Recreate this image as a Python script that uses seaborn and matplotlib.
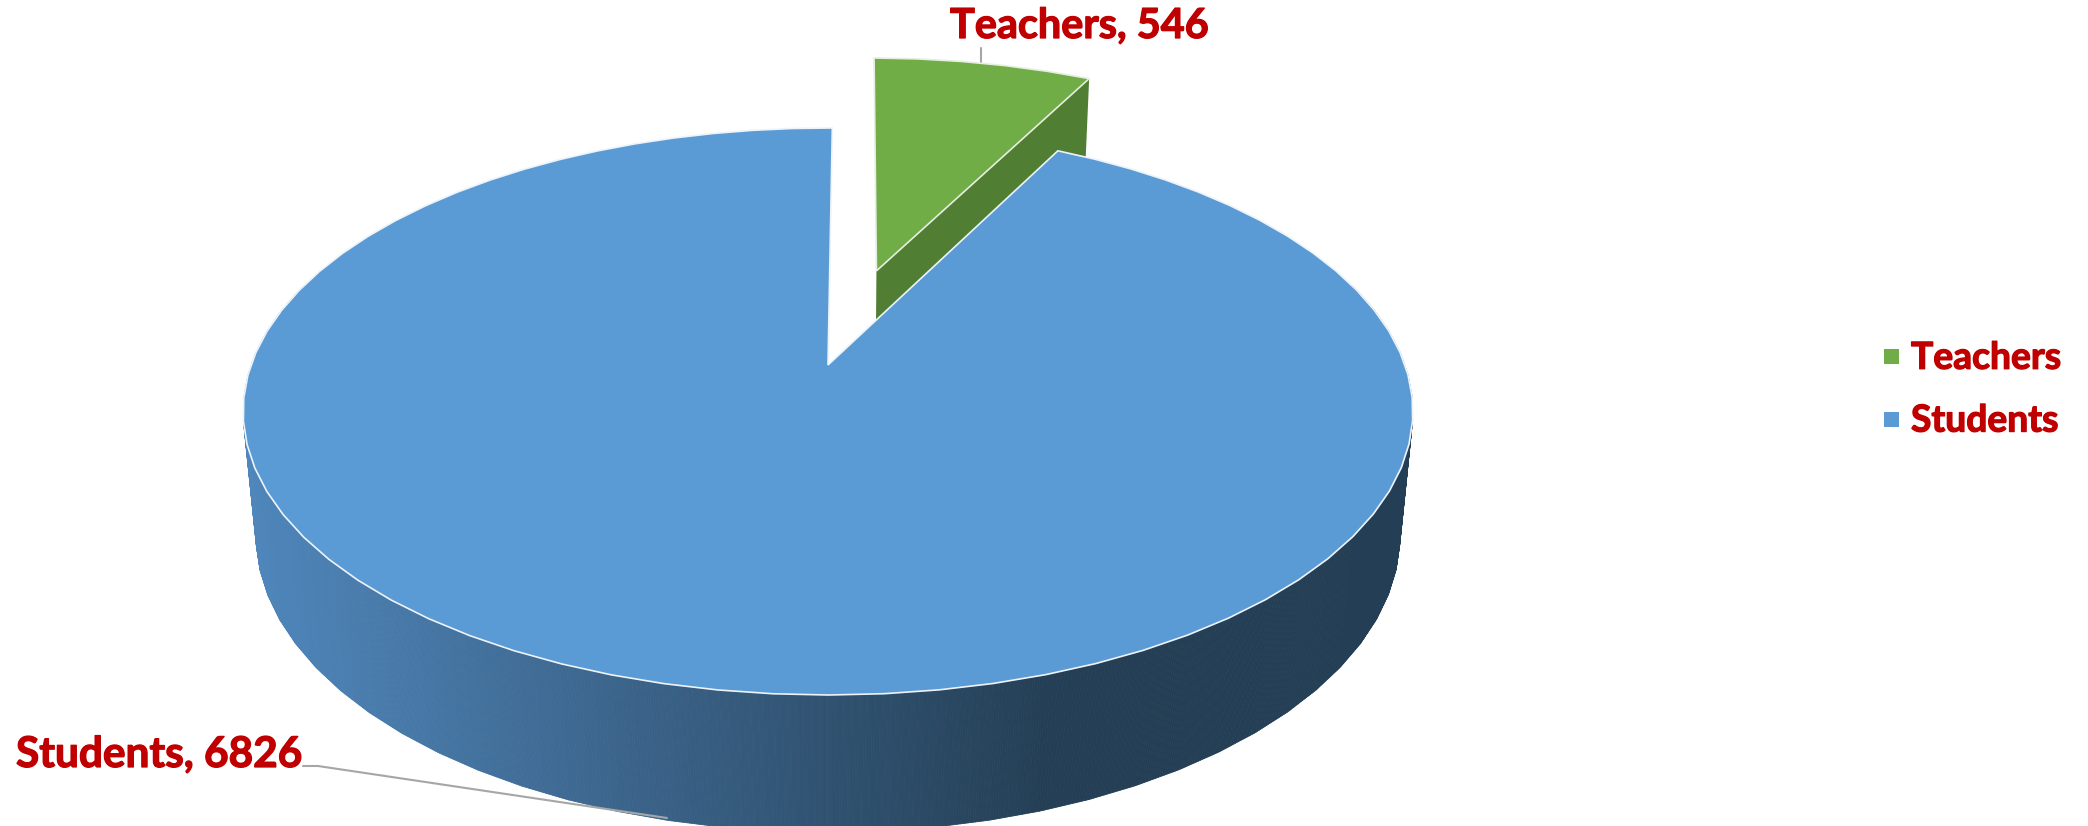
import numpy as np
import matplotlib.pyplot as plt
import matplotlib.patheffects as pe
from matplotlib.collections import PolyCollection
from matplotlib.lines import Line2D
import seaborn as sns

categories = ['Teachers', 'Students']
values = [546, 6826]

# pie projection, in image pixels
CX, CY = 828, 365
RX, RY = 577, 275.9
PERSP = 0.164      # back of the disc shrinks
DEPTH = 125        # thickness of the pie
Z_PERSP = 0.022
EXPLODE = 0.372
START = 89.5
FACET = 4.6        # the outline is a polygon, one vertex per FACET degrees


def project(X, Y, Z=0.0):
    """Plane coords of the pie (unit radius) to image pixels"""
    X, Y, Z = np.asarray(X, float), np.asarray(Y, float), np.asarray(Z, float)
    w = 1 + PERSP * Y + Z_PERSP * Z
    return CX + RX * X / w, CY - RY * Y / w + DEPTH * Z / w


def arc(a0, a1):
    n = max(int(abs(a1 - a0) / FACET), 2) + 1
    t = np.radians(np.linspace(a0, a1, n))
    return np.cos(t), np.sin(t)


def draw_side(ax, a0, a1, palette):
    """Outer wall of the big slice as thin strips, shaded by x position"""
    cx, cy = arc(a0, a1)
    # subdivide the facets so the shading stays smooth
    p = np.linspace(0, len(cx) - 1, 1500)
    ux = np.interp(p, np.arange(len(cx)), cx)
    uy = np.interp(p, np.arange(len(cy)), cy)
    x0, y0 = project(ux, uy)
    x1, y1 = project(ux, uy, 1.0)
    polys, cols = [], []
    for i in range(len(x0) - 1):
        if uy[i] > 0.3:
            continue
        polys.append([(x0[i], y0[i]), (x0[i + 1], y0[i + 1]), (x1[i + 1], y1[i + 1]), (x1[i], y1[i])])
        f = np.clip((x1[i] - 250) / (1040 - 250), 0, 1)
        cols.append(palette[int(f * (len(palette) - 1))])
    ax.add_collection(PolyCollection(polys, facecolors=cols, edgecolors=cols, linewidths=0.6, zorder=2))


def main():
    sns.set_theme(style='white')
    plt.rcParams['font.family'] = ['Lato', 'DejaVu Sans']

    blue, green = '#5B9BD5', '#70AD47'
    dark_green = '#507E32'
    red = '#C00000'
    line_grey = '#A6A6A6'
    side_palette = sns.blend_palette(['#4F87BC', '#3A6288', '#243F55'], n_colors=200)
    thick = [pe.withStroke(linewidth=0.9, foreground=red)]

    fig = plt.figure(figsize=(20.88, 8.26), dpi=100)
    ax = fig.add_axes([0, 0, 1, 1])
    ax.set_xlim(0, 2088)
    ax.set_ylim(826, 0)
    ax.axis('off')

    sweep = 360 * np.array(values) / sum(values)
    teacher_end = START - sweep[0]

    # teachers slice, pulled out along its bisector
    mid = np.radians(START - sweep[0] / 2)
    ox, oy = EXPLODE * np.cos(mid), EXPLODE * np.sin(mid)
    ex, ey = np.cos(np.radians(teacher_end)), np.sin(np.radians(teacher_end))
    wx, wy = project([ox, ox + ex, ox + ex, ox], [oy, oy + ey, oy + ey, oy], [0, 0, 1, 1])
    ax.fill(wx, wy, color=dark_green, lw=0, zorder=1)
    ux, uy = arc(teacher_end, START)
    tx, ty = project(np.r_[ox, ox + ux], np.r_[oy, oy + uy])
    ax.fill(tx, ty, facecolor=green, edgecolor='#E6EEE0', lw=1.2, zorder=1.5)

    # students slice
    draw_side(ax, START, START + sweep[1], side_palette)
    ux, uy = arc(START, START + sweep[1])
    sx, sy = project(np.r_[0, ux], np.r_[0, uy])
    ax.fill(sx, sy, facecolor=blue, edgecolor='#EDF3F9', lw=1.2, zorder=3)

    # data labels with leader lines
    ax.plot([981, 981], [48, 63], color=line_grey, lw=1.5, zorder=0.5)
    ax.plot([303, 318, 667], [766, 766, 818], color=line_grey, lw=1.5, zorder=4)
    ax.text(950, 38, f'{categories[0]}, {values[0]}', color=red, fontsize=29.8, fontweight='bold',
            ha='left', va='baseline', zorder=5, path_effects=thick)
    ax.text(16, 767, f'{categories[1]}, {values[1]}', color=red, fontsize=30.5, fontweight='bold',
            ha='left', va='baseline', zorder=5, path_effects=thick)

    handles = [Line2D([], [], marker='s', ls='none', ms=10.8, mfc=c, mec=c, mew=0) for c in (green, blue)]
    leg = ax.legend(handles, categories, loc='center left', bbox_to_anchor=(0.8965, 0.5282), frameon=False,
                    prop={'size': 26.8, 'weight': 'bold'}, labelcolor=red, handletextpad=0.05,
                    labelspacing=0.8, handlelength=1.0, borderpad=0, borderaxespad=0)
    for t in leg.get_texts():
        t.set_path_effects(thick)

    plt.savefig('out.png', dpi=100)
    plt.close()


if __name__ == "__main__":
    main()
